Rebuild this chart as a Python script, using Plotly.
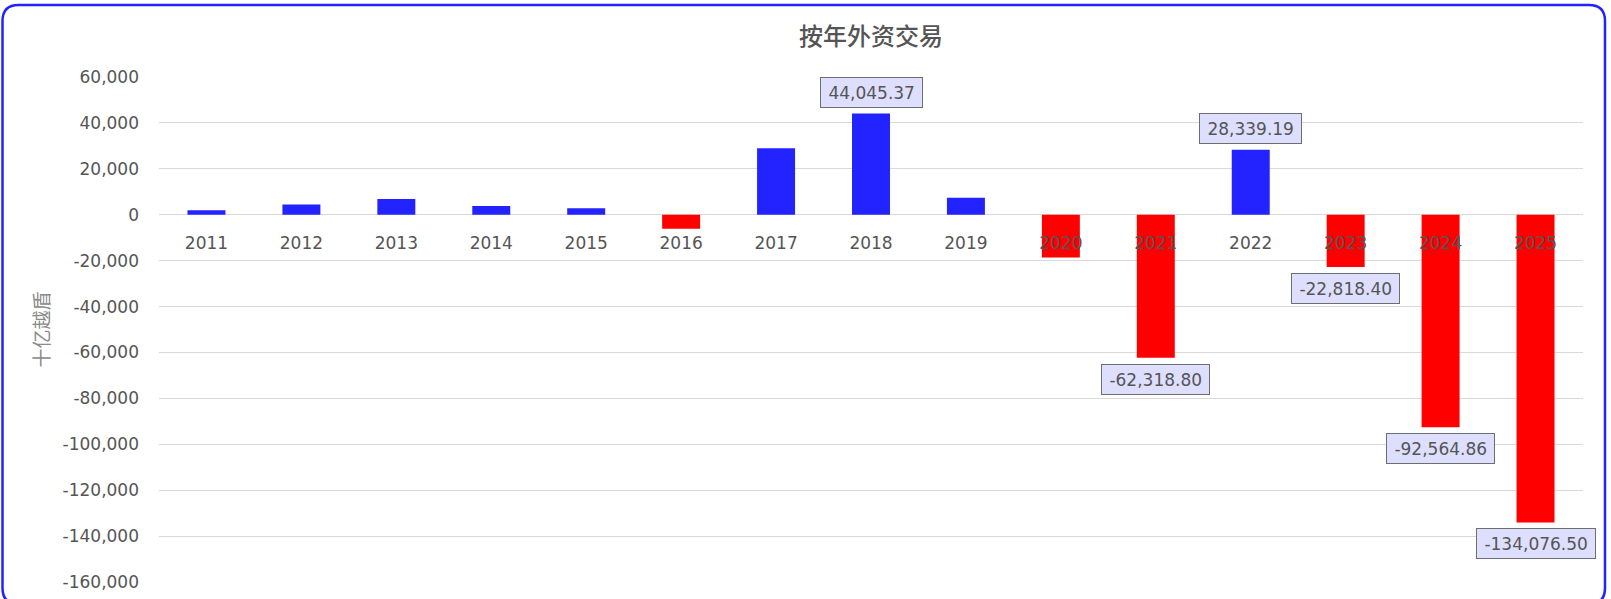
import plotly.graph_objects as go

years = ["2011", "2012", "2013", "2014", "2015", "2016", "2017", "2018",
         "2019", "2020", "2021", "2022", "2023", "2024", "2025"]
values = [1900, 4500, 6800, 3800, 2800, -6100, 29000, 44045.37,
          7400, -18600, -62318.80, 28339.19, -22818.40, -92564.86, -134076.50]
labeled_years = ["2018", "2021", "2022", "2023", "2024", "2025"]
y_ticks = [60000, 40000, 20000, 0, -20000, -40000, -60000, -80000,
           -100000, -120000, -140000, -160000]

title_text = "按年外资交易"
y_title = "十亿越盾"

BLUE = "#2323ff"
RED = "#ff0000"
TXT = "#555555"
FONT = "DejaVu Sans"
CJK = "Noto Sans CJK SC"

W, H = 1611, 599
ML, MR, MT, MB = 159, 28, 77, 17
PW, PH = W - ML - MR, H - MT - MB

colors = [BLUE if v >= 0 else RED for v in values]

fig = go.Figure()
fig.add_trace(go.Bar(
    x=years, y=values, marker=dict(color=colors, line=dict(width=0)),
    hoverinfo="x+y",
))

annotations = []
for i, (yr, v) in enumerate(zip(years, values)):
    if yr in labeled_years:
        annotations.append(dict(
            x=i, y=v, xref="x", yref="y",
            text="\u2009" + f"{v:,.2f}" + "\u2009",
            showarrow=False,
            yanchor="bottom" if v >= 0 else "top",
            yshift=6 if v >= 0 else -6,
            height=21,
            font=dict(family=FONT, size=17, color=TXT),
            bgcolor="#dedeff", bordercolor="#6e6e6e", borderwidth=1, borderpad=4,
        ))


def px_x(p):
    return (p - ML) / PW


def px_y(p):
    return (H - MB - p) / PH


# rounded border around the chart
x0, x1, y0, y1, r = 2.5, 1605, 5, 604, 16
path = (f"M {px_x(x0 + r)},{px_y(y0)} L {px_x(x1 - r)},{px_y(y0)} "
        f"Q {px_x(x1)},{px_y(y0)} {px_x(x1)},{px_y(y0 + r)} "
        f"L {px_x(x1)},{px_y(y1 - r)} "
        f"Q {px_x(x1)},{px_y(y1)} {px_x(x1 - r)},{px_y(y1)} "
        f"L {px_x(x0 + r)},{px_y(y1)} "
        f"Q {px_x(x0)},{px_y(y1)} {px_x(x0)},{px_y(y1 - r)} "
        f"L {px_x(x0)},{px_y(y0 + r)} "
        f"Q {px_x(x0)},{px_y(y0)} {px_x(x0 + r)},{px_y(y0)} Z")

fig.update_layout(
    width=W, height=H,
    margin=dict(l=ML, r=MR, t=MT, b=MB, pad=0, autoexpand=False),
    paper_bgcolor="white", plot_bgcolor="white",
    bargap=0.6,
    showlegend=False,
    title=dict(text=title_text, x=0.5, xref="paper", xanchor="center",
               y=1 - 37 / H, yanchor="middle",
               font=dict(family=CJK, size=24, color=TXT, weight=500)),
    annotations=annotations,
    shapes=[dict(type="path", path=path, xref="paper", yref="paper",
                 line=dict(color="#2222ff", width=2.5), layer="above")],
    xaxis=dict(
        type="category", range=[-0.5, len(years) - 0.5],
        anchor="free", position=160000 / 220000, automargin=False,
        showgrid=False, showline=False, zeroline=False,
        ticks="", ticklabelstandoff=16,
        tickfont=dict(family=FONT, size=17, color=TXT),
    ),
    yaxis=dict(
        range=[-160000, 60000], tickvals=y_ticks, automargin=False,
        ticktext=[f"{t:,}" for t in y_ticks],
        showgrid=True, gridcolor="#d9d9d9", gridwidth=1,
        zeroline=True, zerolinecolor="#d9d9d9", zerolinewidth=1,
        showline=False, ticks="", ticklabelstandoff=19,
        tickfont=dict(family=FONT, size=17, color=TXT),
        title=dict(text=y_title, standoff=7,
                   font=dict(family=CJK, size=19, color="#8a8a8a")),
    ),
)

fig.write_html("out.html",
               config={"displayModeBar": False},
               post_script="document.body.style.margin='0';")
